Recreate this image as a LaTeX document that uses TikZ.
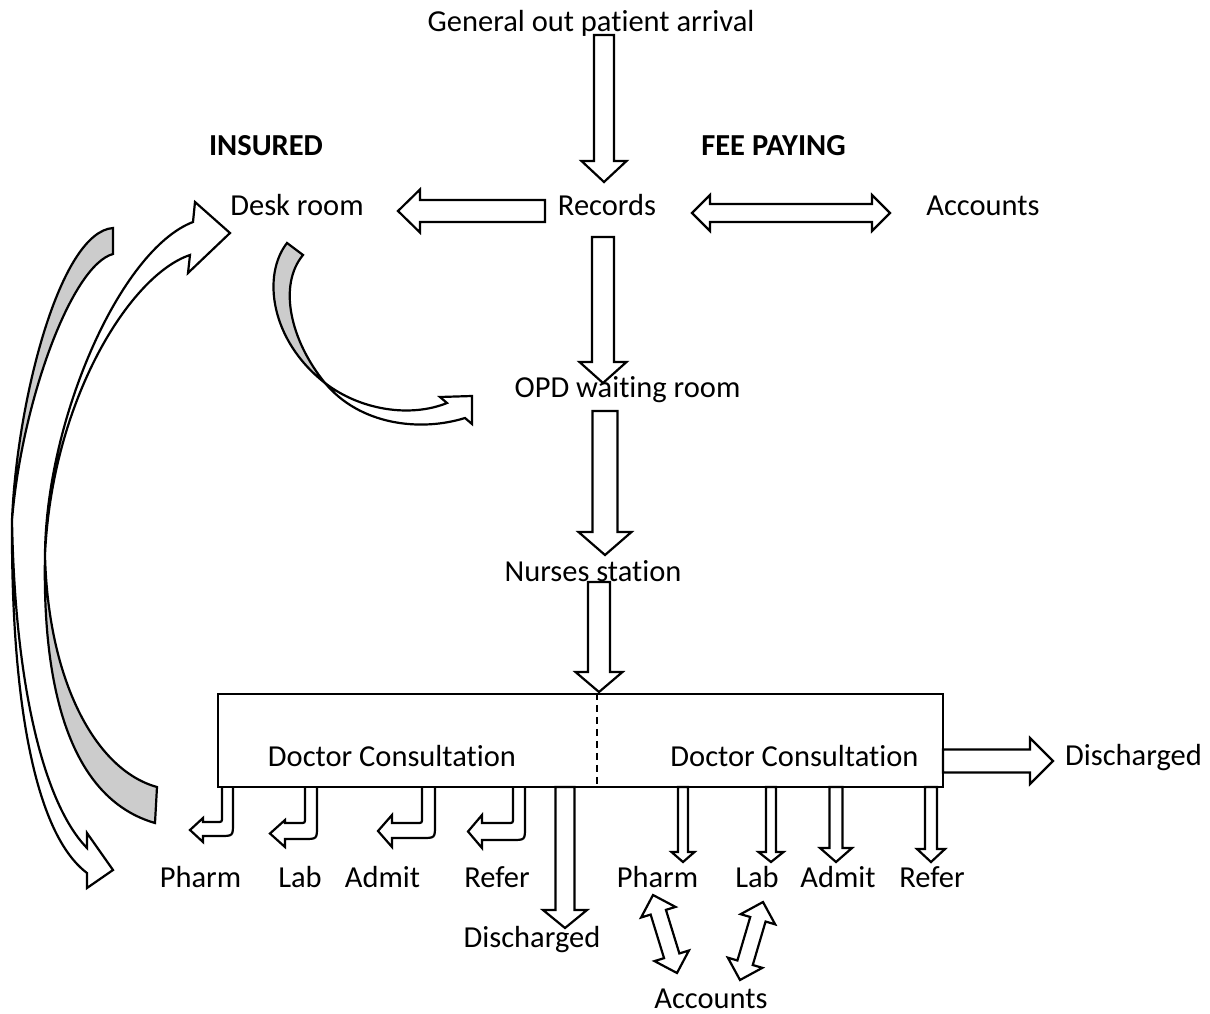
\documentclass[tikz,border=0pt]{standalone}
\usepackage{fontspec}
\setmainfont{Carlito}[Ligatures={NoCommon,NoRequired,NoContextual}, Contextuals=NoAlternate]
\usetikzlibrary{calc}
\newcommand\tiapart{t\kern0pt i}

% hollow block arrow: start, tip, shaft half width, head half width, head length
\newcommand\blockarrow[5]{%
  \coordinate (hb) at ($(#2)!#5!(#1)$);
  \draw[barrow] ($(#1)!#3!90:(#2)$) -- ($(hb)!#3!90:(#2)$) -- ($(hb)!#4!90:(#2)$) -- (#2)
    -- ($(hb)!#4!-90:(#2)$) -- ($(hb)!#3!-90:(#2)$) -- ($(#1)!#3!-90:(#2)$) -- cycle;}
% the same with a head at both ends
\newcommand\dblarrow[5]{%
  \coordinate (hb) at ($(#2)!#5!(#1)$);
  \coordinate (ha) at ($(#1)!#5!(#2)$);
  \draw[barrow] (#1) -- ($(ha)!#4!90:(#2)$) -- ($(ha)!#3!90:(#2)$) -- ($(hb)!#3!90:(#2)$)
    -- ($(hb)!#4!90:(#2)$) -- (#2) -- ($(hb)!#4!-90:(#2)$) -- ($(hb)!#3!-90:(#2)$)
    -- ($(ha)!#3!-90:(#2)$) -- ($(ha)!#4!-90:(#2)$) -- cycle;}
% arrow that leaves the box downwards and turns left
\newcommand\bentarrow[8]{%
  \draw[barrow] (#1,787) -- (#1,#3-5) .. controls (#1,#3) .. (#1-5,#3) -- (#5,#3) -- (#5,#7)
    -- (#6,{(#7+#8)/2}) -- (#5,#8) -- (#5,#4) -- (#2-13,#4) .. controls (#2,#4) .. (#2,#4-13) -- (#2,787);}

\tikzset{
  barrow/.style={draw=black, fill=white, line width=2.2pt, line join=miter},
  fold/.style={draw=black, fill=black!20, line width=2.2pt},
  lbl/.style={anchor=base, inner sep=0pt, font=\fontsize{30.5}{36}\selectfont},
  lblb/.style={lbl, font=\fontsize{30.5}{36}\selectfont\bfseries},
}

\begin{document}
\begin{tikzpicture}[x=1pt,y=-1pt]
\useasboundingbox (0,0) rectangle (1210,1014);

% curved return arrows on the left
\draw[fold] (113,228) .. controls (60,232) and (17,400) .. (12,520) .. controls (22,400) and (72,265) .. (113,254) -- cycle;
\draw[barrow] (12,520) .. controls (11,680) and (30,830) .. (87,873) -- (87,888) -- (113,870) -- (87,833)
  -- (87,848) .. controls (45,805) and (15,690) .. (12,520) -- cycle;
\draw[fold] (155,823) .. controls (75,800) and (42,700) .. (45,555) .. controls (48,680) and (95,770) .. (157,787) -- cycle;
\draw[barrow] (45,555) .. controls (46,420) and (120,250) .. (193,222) -- (195,202) -- (230,233) -- (188,273)
  -- (190,255) .. controls (130,275) and (52,400) .. (45,555) -- cycle;
% desk room to waiting room
\draw[fold] (287,243) .. controls (262,275) and (270,340) .. (325,383) .. controls (290,340) and (278,285) .. (303,255) -- cycle;
\draw[barrow] (325,383) .. controls (360,410) and (410,418) .. (447,403) -- (440,397) -- (472,396) -- (472,424)
  -- (465,418) .. controls (420,432) and (360,425) .. (325,383) -- cycle;

% arrow ends
\coordinate (arr-out) at (604,35);  \coordinate (rec-in) at (604,182);
\coordinate (rec-w) at (545,211);   \coordinate (desk-in) at (398,211);
\coordinate (rec-e) at (692,213);   \coordinate (acc-w) at (890,213);
\coordinate (rec-out) at (603,237); \coordinate (opd-in) at (603,383);
\coordinate (opd-out) at (605,411); \coordinate (nur-in) at (605,555);
\coordinate (nur-out) at (599,582); \coordinate (box-in) at (599,692);
\coordinate (box-e) at (943,761);   \coordinate (dis-in) at (1053,761);
\coordinate (box-s) at (565,787);   \coordinate (dis2-in) at (565,928);
\coordinate (ph-s) at (653,895);    \coordinate (acc-ph) at (677,973);
\coordinate (lab-s) at (763,902);   \coordinate (acc-lab) at (740,980);

\blockarrow{arr-out}{rec-in}{10pt}{22.5pt}{21pt}
\blockarrow{rec-w}{desk-in}{11pt}{21.5pt}{22pt}
\dblarrow{rec-e}{acc-w}{9pt}{18pt}{18pt}
\blockarrow{rec-out}{opd-in}{11pt}{23.5pt}{21pt}
\blockarrow{opd-out}{nur-in}{12.5pt}{26.5pt}{23pt}
\blockarrow{nur-out}{box-in}{11pt}{23.5pt}{20pt}
\blockarrow{box-e}{dis-in}{11.5pt}{23pt}{23pt}
\blockarrow{box-s}{dis2-in}{9.5pt}{22pt}{18pt}
\dblarrow{ph-s}{acc-ph}{8pt}{18pt}{18pt}
\dblarrow{lab-s}{acc-lab}{8pt}{18pt}{18pt}

% fee paying side
\foreach \x/\w/\hw/\hl in {683/5/11.5/10, 771/5/12.5/10, 836/6.5/16/14, 931/6/14/13} {
  \coordinate (top) at (\x,787); \coordinate (end) at (\x,862);
  \blockarrow{top}{end}{\w pt}{\hw pt}{\hl pt}
}
% insured side
\foreach \xl/\xr/\yt/\yb/\hbase/\tip/\wt/\wb in {222/233/822/836/203/190/818/842,
    305/317/823/839/285/270/820/847, 422/435/823/838/392/378/815/847, 513/525/823/840/482/468/815/848}
  \bentarrow{\xl}{\xr}{\yt}{\yb}{\hbase}{\tip}{\wt}{\wb};

\node[draw, line width=2.2pt, minimum width=725pt, minimum height=93pt, inner sep=0pt] (box) at (580.5,740.5) {};
\coordinate (split) at (597,0);
\draw[line width=1.5pt, dash pattern=on 7pt off 5pt] (box.north -| split) -- (box.south -| split);

\node[lbl] (arrival) at (591,32) {General out pa\tiapart ent arrival};
\node[lblb] (insured) at (266,155) {INSURED};
\node[lblb] (fee) at (773.5,155) {FEE PAYING};
\node[lbl] (desk) at (297,215) {Desk room};
\node[lbl] (records) at (607,215) {Records};
\node[lbl] (accounts) at (983,215) {Accounts};
\node[lbl] (opd) at (627.5,397) {OPD wai\tiapart ng room};
\node[lbl] (nurses) at (593,581) {Nurses sta\tiapart on};
\node[lbl] (docl) at (392,766) {Doctor Consulta\tiapart on};
\node[lbl] (docr) at (794.5,766) {Doctor Consulta\tiapart on};
\node[lbl] (dis) at (1133.5,765) {Discharged};
\node[lbl] (pharm1) at (200.5,887) {Pharm};
\node[lbl] (lab1) at (300,887) {Lab};
\node[lbl] (admit1) at (382.5,887) {Admit};
\node[lbl] (refer1) at (497,887) {Refer};
\node[lbl] (pharm2) at (657.5,887) {Pharm};
\node[lbl] (lab2) at (757,887) {Lab};
\node[lbl] (admit2) at (838,887) {Admit};
\node[lbl] (refer2) at (932,887) {Refer};
\node[lbl] (dis2) at (532,947) {Discharged};
\node[lbl] (acc2) at (711,1008) {Accounts};
\end{tikzpicture}
\end{document}
